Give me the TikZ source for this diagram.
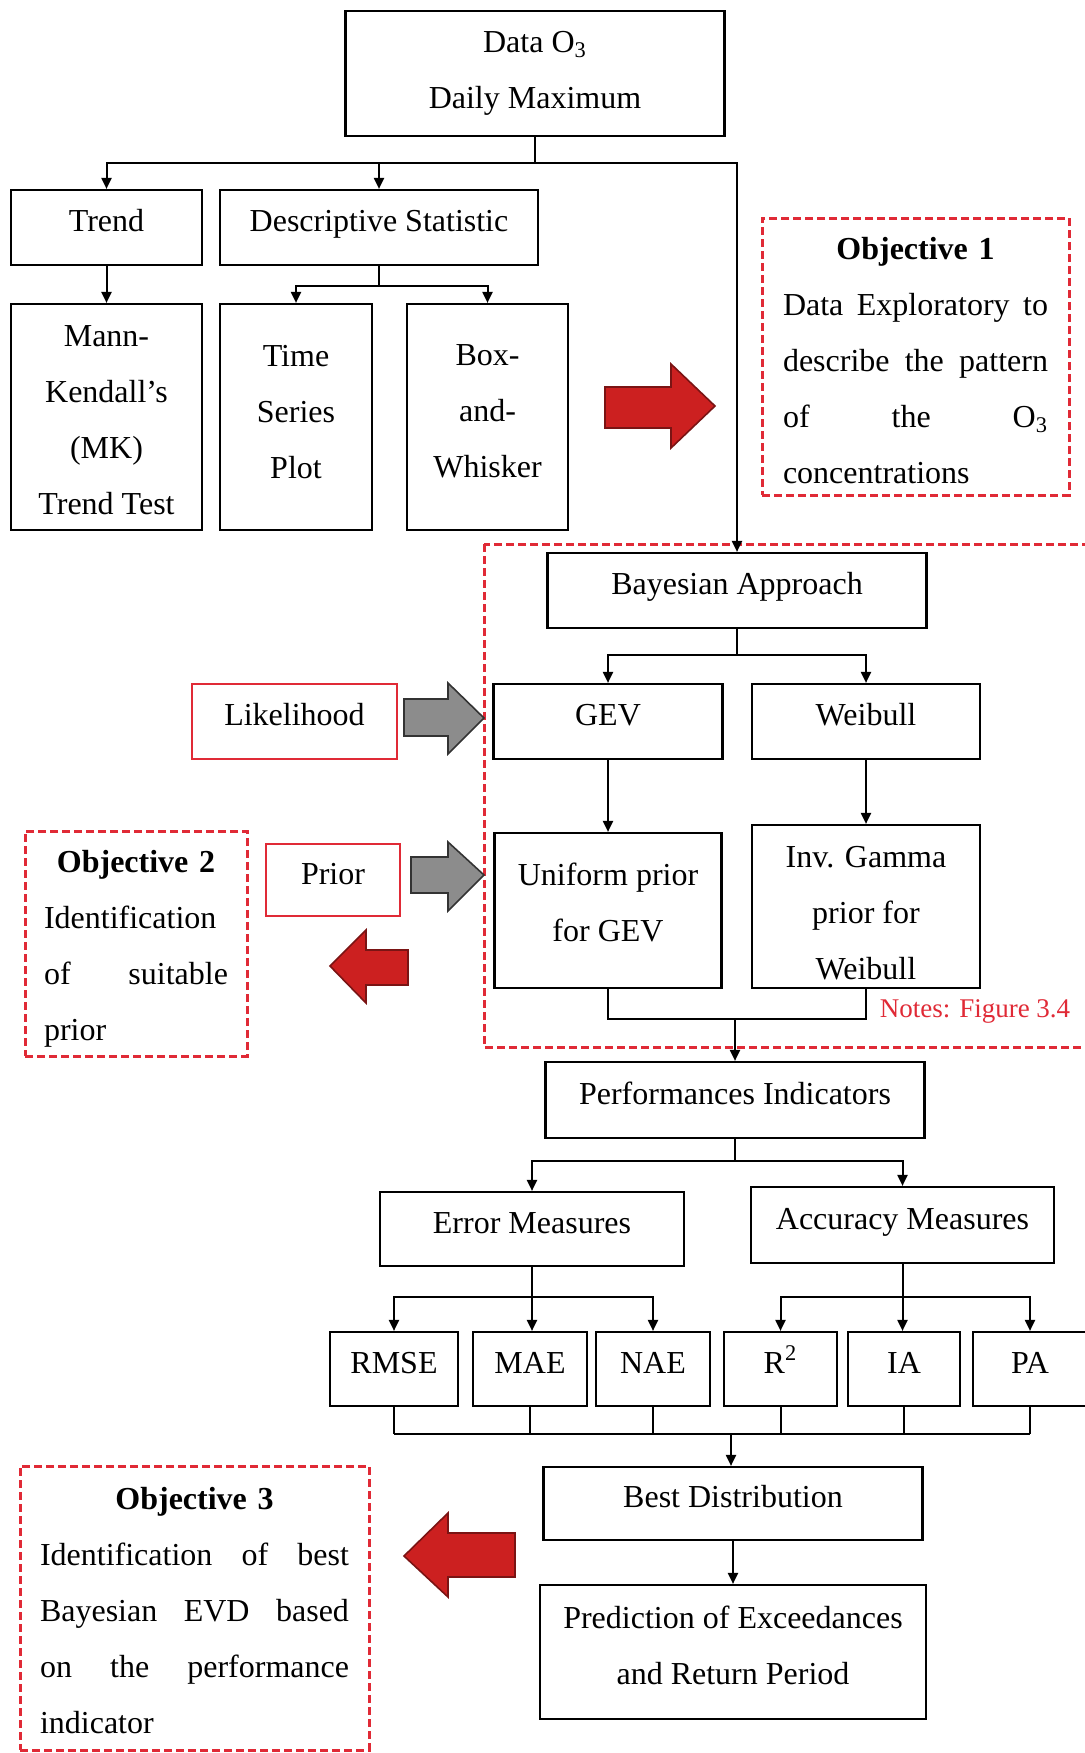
\documentclass[tikz,border=0pt]{standalone}
\usepackage{fontspec}
\setmainfont{Liberation Serif}
\usetikzlibrary{arrows.meta,calc}

\definecolor{objred}{HTML}{E02A36}
\definecolor{arrred}{HTML}{CC2020}
\definecolor{arrdark}{HTML}{7A1414}
\definecolor{arrgray}{HTML}{8C8C8C}

\tikzset{
  box/.style={draw, line width=1.1pt, align=center, inner sep=0pt},
  onebox/.style={box, text height=11pt, text depth=7pt},
  redbox/.style={draw=objred, line width=0.8pt, align=center, inner sep=0pt, text height=11pt, text depth=7pt},
  objbox/.style={draw=objred, line width=1.5pt, dash pattern=on 4pt off 2pt, align=left, inner sep=0pt},
  link/.style={line width=1pt},
  arr/.style={link, -{Triangle[length=5.5pt,width=5pt]}},
  blockred/.style={fill=arrred, draw=arrdark, line width=0.8pt},
  blockgray/.style={fill=arrgray, draw=black!80, line width=0.8pt},
}
% extra room above the first line / below the last line of a box
\newcommand{\uproom}[1]{\rule{0pt}{#1}}
\newcommand{\downroom}[1]{\rule[-#1]{0pt}{0pt}}

\begin{document}
\begin{tikzpicture}[x=0.5pt, y=-0.5pt, font=\fontsize{16}{28}\selectfont]
\useasboundingbox (0,0) rectangle (1084,1753);

% data and exploratory part
\node[box, minimum width=189.5pt, minimum height=62.5pt] (data) at (535,73.5) {Data O\textsubscript{3}\\Daily Maximum};
\node[onebox, minimum width=95.5pt, minimum height=37.5pt] (trend) at (106.5,227.5) {Trend};
\node[onebox, minimum width=159pt, minimum height=37.5pt] (desc) at (379,227.5) {Descriptive Statistic};
\node[box, minimum width=95.5pt, minimum height=113pt] (mann) at (106.5,417) {\uproom{14pt}Mann-\\Kendall's\\(MK)\\Trend Test};
\node[box, minimum width=76pt, minimum height=113pt] (tsp) at (296,417) {Time\\Series\\Plot\downroom{5.6pt}};
\node[box, minimum width=80.5pt, minimum height=113pt] (bwh) at (487.5,417) {Box-\\and-\\Whisker\downroom{5.6pt}};
\node[objbox, text width=132.5pt, minimum width=153.5pt, minimum height=138.5pt] (obj1) at (915.5,356.5)
  {\uproom{15pt}\hfill\textbf{Objective 1}\hfill\null\\
   Data\hfill Exploratory\hfill to\\
   describe\hfill the\hfill pattern\\
   of\hfill the\hfill O\textsubscript{3}\\
   concentrations};

\filldraw[blockred] (605,387) -- (671,387) -- (671,364) -- (715,406) -- (671,448) -- (671,428) -- (605,428) -- cycle;

% bayesian part
\draw[objred, line width=1.5pt, dash pattern=on 4pt off 2pt] (484,544) rectangle (1100,1047);
\node[onebox, minimum width=189.5pt, minimum height=37.5pt] (bayes) at (737,590.5) {Bayesian Approach};
\node[onebox, minimum width=114.5pt, minimum height=37.5pt] (gev) at (608,721.5) {GEV};
\node[onebox, minimum width=114pt, minimum height=37.5pt] (weib) at (866,721.5) {Weibull};
\node[redbox, minimum width=102.5pt, minimum height=37.5pt] (lik) at (294.5,721.5) {Likelihood};
\node[box, minimum width=113.5pt, minimum height=77.5pt] (unif) at (608,910.5) {Uniform prior\\for GEV\downroom{7.8pt}};
\node[box, minimum width=114pt, minimum height=81.5pt] (invg) at (866,906.5) {\uproom{17.6pt}Inv. Gamma\\prior for\\Weibull};
\node[redbox, minimum width=67pt, minimum height=36pt] (prior) at (333,880) {Prior};
\node[objbox, text width=92pt, minimum width=111pt, minimum height=112.5pt] (obj2) at (136,943.5)
  {\uproom{16.6pt}\hfill\textbf{Objective 2}\hfill\null\\
   Identification\\
   of\hfill suitable\\
   prior};
\node[text=objred, font=\fontsize{13.5}{16}\selectfont] (note) at (975,1011) {Notes: Figure 3.4};

\filldraw[blockgray] (404,699) -- (448,699) -- (448,683) -- (484,718) -- (448,754) -- (448,736) -- (404,736) -- cycle;
\filldraw[blockgray] (411,857) -- (448,857) -- (448,842) -- (484,875) -- (448,911) -- (448,893) -- (411,893) -- cycle;
\filldraw[blockred] (408,950) -- (366,950) -- (366,930) -- (330,966) -- (366,1003) -- (366,985) -- (408,985) -- cycle;

% performance part
\node[onebox, minimum width=189.5pt, minimum height=38pt] (perf) at (735,1100) {Performances Indicators};
\node[onebox, minimum width=152pt, minimum height=37pt] (errm) at (532,1229) {Error Measures};
\node[onebox, minimum width=151.5pt, minimum height=38pt] (accm) at (902.5,1225) {Accuracy Measures};
\node[onebox, minimum width=64pt, minimum height=37pt] (rmse) at (394,1369) {RMSE};
\node[onebox, minimum width=57pt, minimum height=37pt] (mae) at (530,1369) {MAE};
\node[onebox, minimum width=57pt, minimum height=37pt] (nae) at (653,1369) {NAE};
\node[onebox, minimum width=56.5pt, minimum height=37pt] (rsq) at (780.5,1369) {R\textsuperscript{2}};
\node[onebox, minimum width=56pt, minimum height=37pt] (ia) at (904,1369) {IA};
\node[onebox, minimum width=57pt, minimum height=37pt] (pa) at (1030,1369) {PA};
\node[onebox, minimum width=189.5pt, minimum height=36.5pt] (best) at (733,1503.5) {Best Distribution};
\node[box, minimum width=193pt, minimum height=67pt] (pred) at (733,1652) {Prediction of Exceedances\\and Return Period\downroom{6.7pt}};
\node[objbox, text width=154.5pt, minimum width=174.5pt, minimum height=142pt] (obj3) at (194.5,1608)
  {\uproom{13.2pt}\hfill\textbf{Objective 3}\hfill\null\\
   Identification\hfill of\hfill best\\
   Bayesian\hfill EVD\hfill based\\
   on\hfill the\hfill performance\\
   indicator};

\filldraw[blockred] (515,1533) -- (448,1533) -- (448,1513) -- (404,1556) -- (448,1597) -- (448,1577) -- (515,1577) -- cycle;

% connectors
\draw[arr] (data.south) -- ++(0,26) -| (trend.north);
\draw[arr] (data.south) ++(0,26) -| (desc.north);
\draw[arr] (data.south) ++(0,26) -| (bayes.north);
\draw[arr] (trend) -- (mann);
\draw[arr] (desc.south) -- ++(0,20) -| (tsp.north);
\draw[arr] (desc.south) ++(0,20) -| (bwh.north);

\draw[arr] (bayes.south) -- ++(0,26) -| (gev.north);
\draw[arr] (bayes.south) ++(0,26) -| (weib.north);
\draw[arr] (gev) -- (unif);
\draw[arr] (weib) -- (invg);
\coordinate (j1) at (735,1019);
\draw[link] (unif.south) |- (j1) -| (invg.south);
\draw[arr] (j1) -- (perf.north);

\draw[arr] (perf.south) -- ++(0,22) -| (errm.north);
\draw[arr] (perf.south) ++(0,22) -| (accm.north);
\draw[arr] (errm.south) -- ++(0,30) -| (rmse.north);
\draw[arr] (errm.south) ++(0,30) -| (nae.north);
\draw[arr] (errm.south) -- (errm.south |- mae.north);
\draw[arr] (accm.south) -- ++(0,33) -| (rsq.north);
\draw[arr] (accm.south) ++(0,33) -| (pa.north);
\draw[arr] (accm.south) -- (accm.south |- ia.north);

\coordinate (j3) at (731,1434);
\foreach \n in {rmse,mae,nae,rsq,ia,pa}
  \draw[link] (\n.south) -- (\n.south |- j3);
\draw[link] (rmse.south |- j3) -- (pa.south |- j3);
\draw[arr] (j3) -- (j3 |- best.north);
\draw[arr] (best) -- (pred);
\end{tikzpicture}
\end{document}
